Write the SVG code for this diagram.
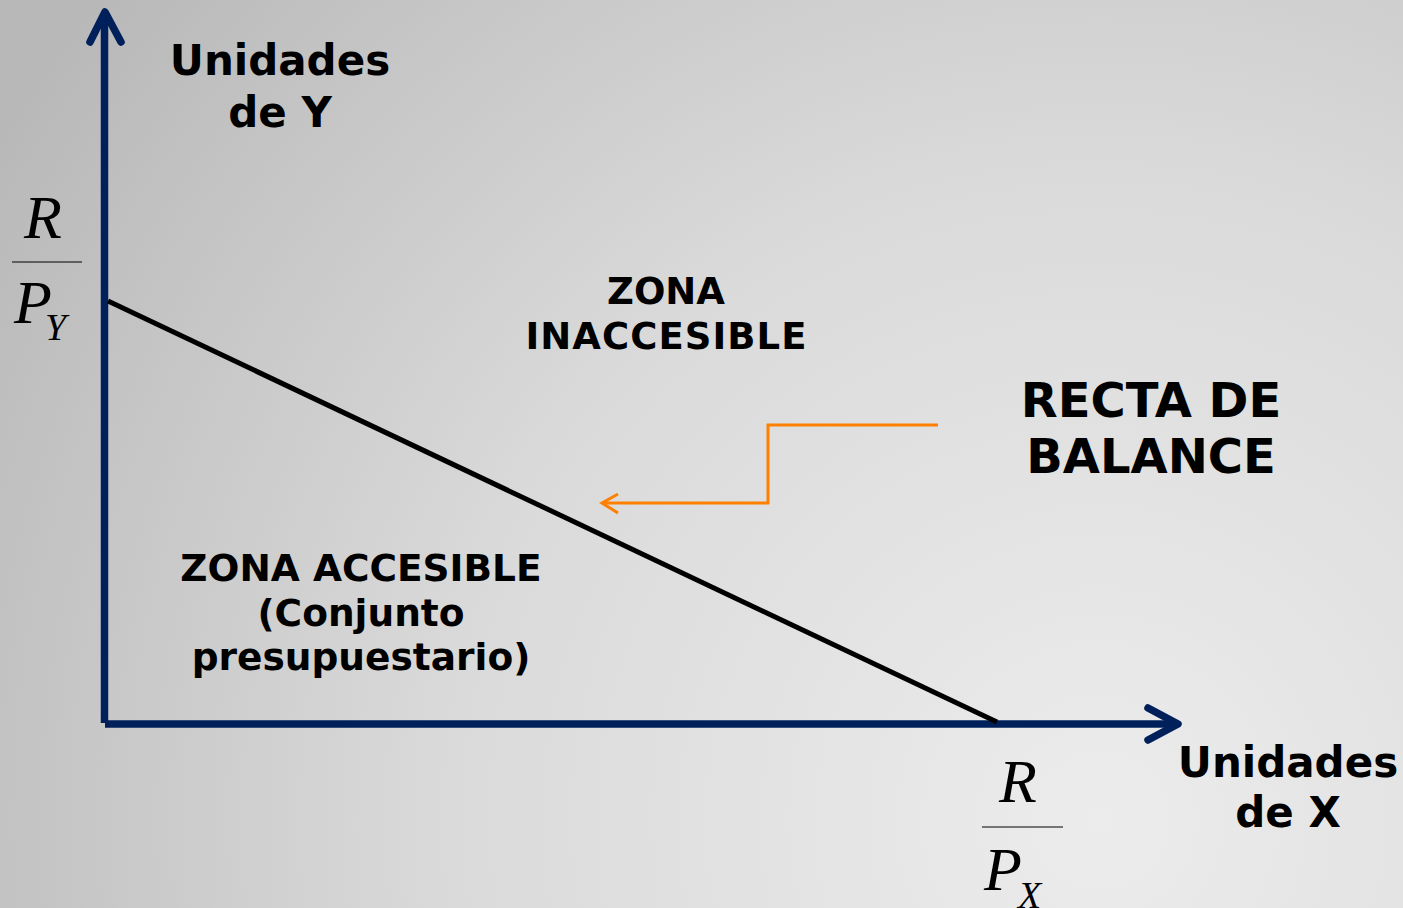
<svg xmlns="http://www.w3.org/2000/svg" width="1403" height="908" viewBox="0 0 1403 908">
<defs>
<radialGradient id="bg" cx="1100" cy="820" r="1300" gradientUnits="userSpaceOnUse">
<stop offset="0" stop-color="#ececec"/>
<stop offset="0.5" stop-color="#dadada"/>
<stop offset="1" stop-color="#b8b8b8"/>
</radialGradient>
<style>
.lbl{font-family:"DejaVu Sans",Verdana,sans-serif;font-weight:bold;fill:#000;text-anchor:middle}
.m{font-family:"Liberation Serif","Times New Roman",serif;font-style:italic;fill:#000}
.axis{stroke:#00205b;stroke-width:7.5;fill:none;stroke-linecap:round;stroke-linejoin:round}
</style>
</defs>
<rect width="1403" height="908" fill="url(#bg)"/>
<g id="connectors">
<line x1="104.5" y1="723" x2="104.5" y2="14" class="axis" style="stroke-linecap:butt"/>
<polyline points="90,42 105,12 121,42" class="axis"/>
<line x1="105" y1="724" x2="1176" y2="724" class="axis" style="stroke-linecap:butt"/>
<polyline points="1148,708 1178,724 1148,740" class="axis"/>
<line x1="108" y1="301" x2="997" y2="722" stroke="#000" stroke-width="5"/>
<polyline points="938,425 768,425 768,503 602,503" fill="none" stroke="#ff8000" stroke-width="3"/>
<polyline points="618,494 602,503 618,513" fill="none" stroke="#ff8000" stroke-width="3"/>
</g>
<g id="ylabel"><text class="lbl" font-size="42"><tspan x="280" y="75">Unidades</tspan><tspan x="280" y="127">de Y</tspan></text></g>
<g id="xlabel"><text class="lbl" font-size="42"><tspan x="1288" y="777">Unidades</tspan><tspan x="1288" y="827">de X</tspan></text></g>
<g id="inaccesible"><text class="lbl" font-size="37" font-stretch="normal"><tspan x="666" y="304">ZONA</tspan><tspan x="666" y="349" textLength="281" lengthAdjust="spacing">INACCESIBLE</tspan></text></g>
<g id="accesible"><text class="lbl" font-size="37.5"><tspan x="361" y="581">ZONA ACCESIBLE</tspan><tspan x="361" y="626">(Conjunto</tspan><tspan x="361" y="670">presupuestario)</tspan></text></g>
<g id="recta"><text class="lbl" font-size="48"><tspan x="1151" y="417">RECTA DE</tspan><tspan x="1151" y="473">BALANCE</tspan></text></g>
<g id="ry">
<text class="m" x="24" y="238" font-size="62">R</text>
<line x1="12" y1="262" x2="82" y2="262" stroke="#000" stroke-width="1.2"/>
<text class="m" x="14" y="323" font-size="62">P</text>
<text class="m" x="45" y="340" font-size="38">Y</text>
</g>
<g id="rx">
<text class="m" x="999" y="802" font-size="62">R</text>
<line x1="982" y1="827" x2="1063" y2="827" stroke="#000" stroke-width="1.2"/>
<text class="m" x="984" y="890" font-size="62">P</text>
<text class="m" x="1018" y="908" font-size="38">X</text>
</g>
</svg>
